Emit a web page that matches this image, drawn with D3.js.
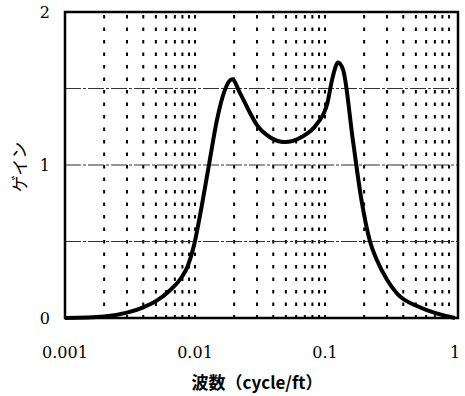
<!DOCTYPE html>
<html>
<head>
<meta charset="utf-8">
<script src="https://cdn.jsdelivr.net/npm/d3@7"></script>
<style>
body{margin:0;background:#fff}
</style>
</head>
<body>
<svg id="chart" width="465" height="396"></svg>
<script>
// 波数 vs ゲイン
var freq=[0.001,0.002,0.003,0.004,0.005,0.0064,0.0078,0.0088,0.0098,0.0112,0.0128,0.0148,0.0168,0.0193,0.0222,0.0265,0.030,0.038,0.049,0.065,0.087,0.104,0.115,0.126,0.138,0.164,0.19,0.222,0.25,0.3,0.358,0.537,1]
var gain=[0,0.01,0.035,0.07,0.11,0.18,0.26,0.34,0.47,0.72,1.0,1.3,1.48,1.56,1.47,1.34,1.26,1.18,1.15,1.18,1.27,1.40,1.58,1.67,1.62,1.16,0.78,0.5,0.38,0.25,0.16,0.07,0]
var yTicks=[0,1,2]
var yGrid=[0.5,1,1.5]
var xTicks=[0.001,0.01,0.1,1]
var xLabels=['0.001','0.01','0.1','1']

var serif='"DejaVu Serif",serif'
var cjk='"Noto Sans CJK JP",sans-serif'
var svg=d3.select('#chart')
var m={left:65,right:458,top:12,bottom:318}
var x=d3.scaleLog().domain([0.001,1]).range([m.left,m.right-3])
var y=d3.scaleLinear().domain([0,2]).range([m.bottom,m.top])

// dotted verticals at every log tick
var minor=[]
for(let k=-3;k<0;k++){
    for(let j=1;j<=9;j++){
        if(k==-3&&j==1) continue
        minor.push(j*Math.pow(10,k))
    }
}
svg.append('g').selectAll('line')
    .data(minor)
    .join('line')
    .attr('x1',d=>x(d)).attr('x2',d=>x(d))
    .attr('y1',m.top+3).attr('y2',m.bottom)
    .attr('stroke','#000')
    .attr('stroke-width',2)
    .attr('stroke-dasharray','3.5,9')
svg.append('g').selectAll('line')
    .data(yGrid)
    .join('line')
    .attr('x1',m.left).attr('x2',m.right)
    .attr('y1',d=>y(d)).attr('y2',d=>y(d))
    .attr('stroke','#333')
    .attr('stroke-width',1)
    .attr('stroke-dasharray','16,2,3,2')

// frame
svg.append('rect')
    .attr('x',m.left).attr('y',m.top)
    .attr('width',m.right-m.left).attr('height',m.bottom-m.top)
    .attr('fill','none')
    .attr('stroke','#000')
    .attr('stroke-width',2.5)

// curve
var line=d3.line()
    .x((d,i)=>x(freq[i]))
    .y(d=>y(d))
    .curve(d3.curveMonotoneX)
svg.append('path')
    .attr('d',line(gain))
    .attr('fill','none')
    .attr('stroke','#000')
    .attr('stroke-width',4)
    .attr('stroke-linejoin','round')

// labels
svg.append('g').selectAll('text')
    .data(yTicks)
    .join('text')
    .attr('x',50).attr('y',d=>y(d)+6)
    .attr('text-anchor','end')
    .attr('font-size',16)
    .style('font-family',serif)
    .text(d=>d)
svg.append('g').selectAll('text')
    .data(xTicks)
    .join('text')
    .attr('x',d=>x(d)).attr('y',358)
    .attr('text-anchor','middle')
    .attr('font-size',16)
    .style('font-family',serif)
    .text((d,i)=>xLabels[i])
svg.append('text')
    .attr('x',257).attr('y',389)
    .attr('text-anchor','middle')
    .attr('font-size',17)
    .attr('font-weight','bold')
    .style('font-family',cjk)
    .text('波数（cycle/ft）')
svg.append('text')
    .attr('transform','translate(26,167) rotate(-90)')
    .attr('text-anchor','middle')
    .attr('font-size',17)
    .style('font-family',cjk)
    .text('ゲイン')
</script>
</body>
</html>
